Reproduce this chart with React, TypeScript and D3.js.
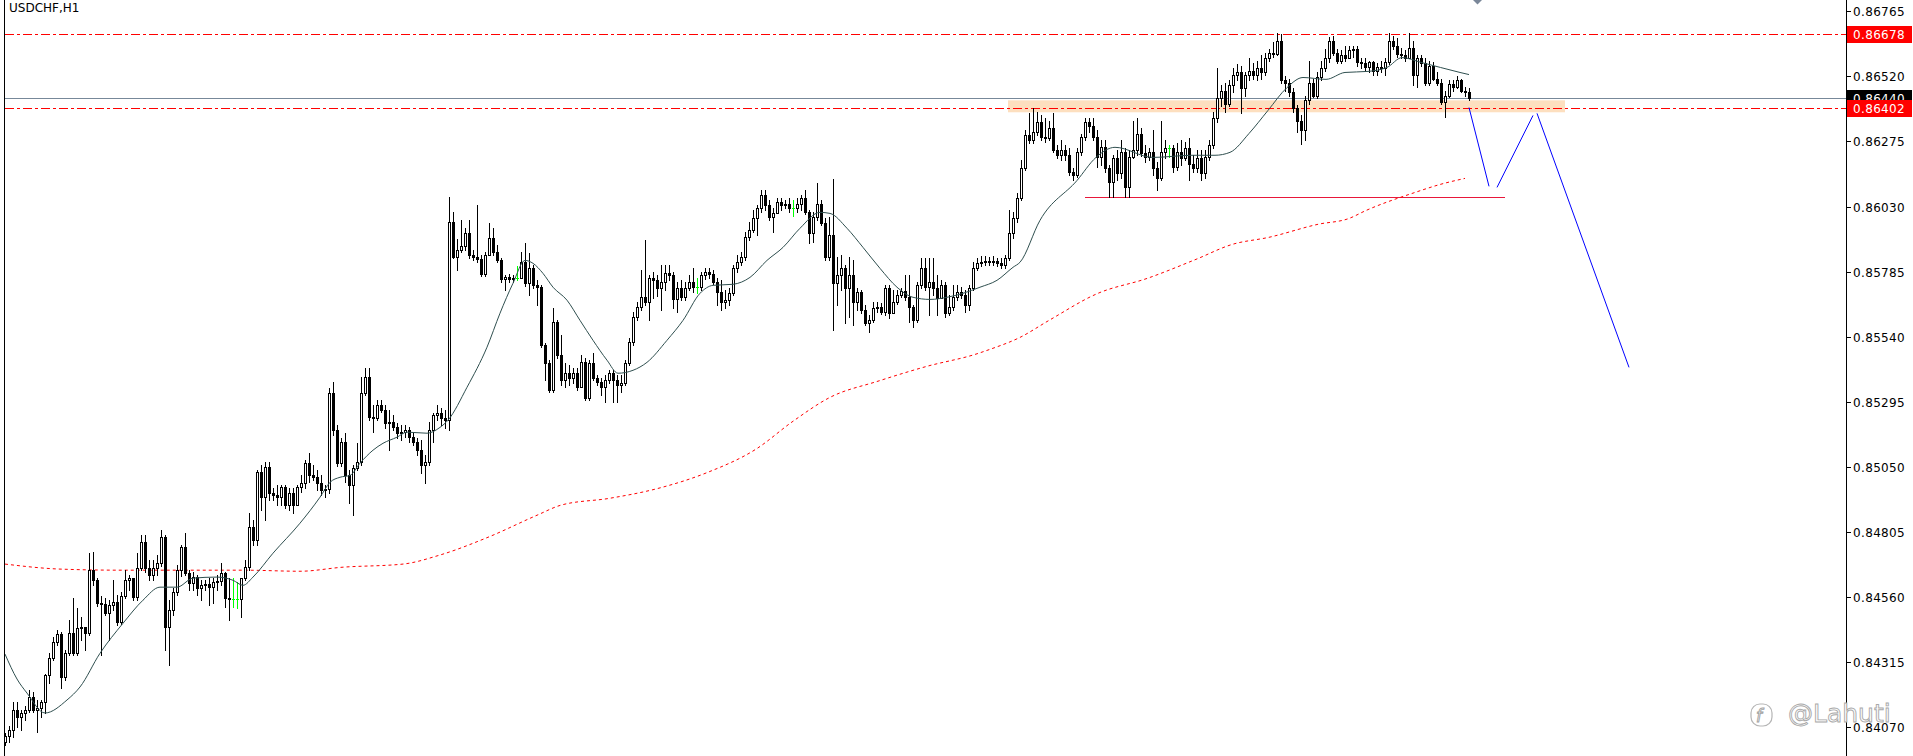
import React, { useEffect } from 'react';
import * as d3 from 'd3';

const W = 1913;
const H = 756;
const SYMBOL = 'USDCHF,H1';
const WATERMARK = '@Lahuti';
const PRICE_TICKS = [0.86765, 0.8652, 0.86275, 0.8603, 0.85785, 0.8554, 0.85295, 0.8505, 0.84805, 0.8456, 0.84315, 0.8407];
const LEVEL_UPPER = 0.86678;
const LEVEL_LOWER = 0.86402;
const BID = 0.8644;
const FIRST_OPEN_PTS = 84012;

// hourly candles, prices in points (1e-5)
const CLOSE_PTS = [
  84035,84058,84133,84107,84122,84133,84182,84133,84141,84163,
  84264,84328,84389,84419,84257,84347,84423,84347,84441,84445,
  84423,84660,84622,84536,84532,84498,84528,84540,84464,84562,
  84622,84630,84558,84668,84766,84668,84641,84668,84686,84784,
  84445,84509,84577,84660,84747,84649,84611,84634,84592,84603,
  84607,84596,84615,84618,84649,84555,84551,84551,84551,84630,
  84672,84822,84773,85029,84935,85048,84950,84942,84935,84972,
  84905,84950,84905,84972,84987,85063,85017,85010,84987,84961,
  84965,85326,85187,85063,85142,85017,84980,85044,85067,85326,
  85387,85236,85232,85281,85262,85213,85217,85198,85176,85180,
  85187,85161,85142,85112,85055,85067,85187,85243,85251,85232,
  85225,85970,85838,85865,85880,85929,85846,85838,85831,85774,
  85846,85910,85857,85827,85756,85763,85756,85759,85759,85820,
  85741,85797,85733,85726,85507,85439,85338,85594,85470,85375,
  85402,85383,85402,85349,85443,85308,85439,85383,85368,85349,
  85375,85402,85375,85356,85364,85439,85519,85613,85650,85688,
  85669,85759,85752,85722,85744,85778,85771,85680,85722,85688,
  85722,85744,85726,85726,85771,85782,85774,85744,85707,85669,
  85677,85703,85797,85820,85838,85914,85940,85985,86023,86072,
  86034,85989,86004,86046,86034,86038,86023,86023,86038,86061,
  86008,85929,85989,86038,85966,85838,85921,85741,85771,85797,
  85722,85771,85669,85707,85639,85590,85601,85646,85650,85631,
  85722,85628,85669,85695,85710,85688,85650,85601,85733,85797,
  85726,85744,85722,85684,85733,85628,85650,85688,85707,85695,
  85658,85722,85797,85816,85820,85823,85820,85823,85816,85808,
  85835,85929,85985,86061,86174,86298,86279,86309,86347,86290,
  86287,86324,86241,86223,86241,86223,86159,86147,86234,86290,
  86347,86335,86290,86215,86253,86174,86121,86211,86155,86234,
  86102,86215,86241,86305,86230,86215,86234,86174,86136,86234,
  86249,86249,86178,86234,86211,86249,86192,86174,86211,86155,
  86215,86260,86362,86437,86467,86418,86486,86524,86535,86475,
  86524,86542,86524,86550,86535,86591,86610,86606,86655,86505,
  86497,86460,86400,86354,86317,86430,86497,86448,86516,86550,
  86588,86655,86610,86580,86599,86591,86618,86625,86573,86569,
  86554,86573,86542,86554,86550,86573,86655,86636,86606,86599,
  86591,86629,86524,86588,86569,86494,86561,86512,86494,86422,
  86448,86490,86482,86505,86467,86463,86440,
];

const HIGH_PTS = [
  84047,84073,84163,84163,84133,84148,84208,84201,84171,84171,
  84270,84347,84408,84434,84427,84359,84472,84555,84517,84483,
  84441,84724,84728,84630,84562,84555,84547,84622,84566,84577,
  84660,84641,84630,84724,84792,84792,84698,84698,84716,84811,
  84792,84547,84592,84679,84754,84799,84660,84653,84641,84622,
  84622,84630,84630,84641,84686,84653,84630,84630,84615,84630,
  84698,84875,84848,85036,85055,85067,85067,84969,84980,84980,
  84980,84969,84969,84980,85017,85074,85101,85055,85036,85017,
  84980,85345,85368,85206,85157,85176,85036,85055,85138,85387,
  85421,85421,85281,85300,85300,85281,85262,85243,85213,85206,
  85206,85198,85176,85157,85149,85093,85217,85251,85281,85270,
  85262,86064,86008,85906,85981,85948,85981,85865,86034,85846,
  85857,85966,85948,85884,85835,85771,85774,85771,85805,85857,
  85891,85854,85808,85752,85733,85515,85451,85646,85601,85545,
  85439,85432,85421,85421,85470,85458,85451,85477,85394,85383,
  85394,85413,85413,85394,85394,85451,85534,85631,85669,85789,
  85902,85771,85782,85771,85808,85808,85808,85782,85744,85752,
  85744,85771,85797,85759,85782,85797,85797,85789,85759,85752,
  85714,85722,85808,85846,85857,85933,85970,86015,86034,86091,
  86091,86053,86023,86061,86061,86053,86061,86053,86061,86072,
  86091,86015,86008,86117,86053,85985,85989,86132,85838,85846,
  85808,85838,85827,85722,85714,85658,85620,85669,85669,85665,
  85733,85733,85714,85714,85722,85771,85771,85658,85744,85835,
  85835,85835,85835,85771,85752,85744,85695,85733,85733,85726,
  85714,85733,85820,85835,85842,85842,85838,85842,85835,85835,
  85846,86015,86008,86080,86204,86317,86381,86400,86385,86373,
  86362,86354,86381,86260,86279,86260,86249,86174,86249,86305,
  86362,86362,86362,86317,86279,86279,86185,86223,86241,86279,
  86249,86241,86354,86362,86324,86260,86249,86317,86196,86354,
  86279,86260,86260,86268,86279,86272,86287,86223,86241,86241,
  86241,86279,86385,86550,86486,86497,86505,86550,86565,86561,
  86535,86588,86569,86580,86599,86610,86625,86648,86682,86678,
  86520,86512,86475,86411,86373,86445,86580,86512,86535,86580,
  86625,86670,86674,86625,86618,86633,86633,86636,86633,86588,
  86588,86580,86580,86569,86580,86588,86682,86674,86663,86629,
  86618,86682,86655,86599,86599,86588,86580,86573,86535,86512,
  86467,86505,86505,86520,86512,86482,86475,
];

const LOW_PTS = [
  84001,84012,84032,84069,84058,84095,84125,84125,84050,84107,
  84122,84235,84321,84378,84216,84246,84340,84340,84340,84396,
  84359,84415,84603,84524,84340,84491,84396,84509,84453,84457,
  84555,84585,84547,84547,84660,84653,84622,84622,84641,84675,
  84359,84302,84491,84566,84637,84641,84585,84585,84566,84547,
  84585,84528,84536,84585,84603,84521,84472,84521,84517,84483,
  84622,84660,84754,84754,84886,84848,84924,84924,84905,84905,
  84894,84886,84875,84905,84954,84969,84991,84999,84961,84942,
  84935,84950,85168,85051,85051,84991,84912,84867,85036,85055,
  85319,85225,85180,85225,85255,85195,85112,85187,85157,85149,
  85161,85142,85131,85093,85025,84987,85055,85142,85225,85206,
  85195,85187,85835,85789,85857,85865,85835,85827,85820,85767,
  85767,85846,85846,85820,85744,85714,85744,85744,85752,85759,
  85729,85695,85722,85658,85500,85375,85330,85330,85458,85356,
  85349,85356,85364,85338,85356,85300,85300,85375,85356,85319,
  85292,85364,85292,85292,85330,85356,85432,85507,85601,85639,
  85658,85601,85684,85692,85639,85714,85752,85646,85631,85677,
  85677,85714,85707,85703,85714,85756,85759,85737,85658,85639,
  85646,85658,85695,85782,85808,85827,85902,85933,85921,86008,
  86015,85978,85933,86023,86015,86023,86008,85996,86008,86015,
  86000,85891,85895,85978,85959,85827,85827,85564,85658,85714,
  85590,85613,85583,85639,85628,85583,85556,85594,85631,85624,
  85620,85609,85658,85662,85688,85677,85594,85575,85594,85722,
  85714,85620,85695,85620,85695,85613,85620,85639,85677,85684,
  85631,85639,85714,85789,85805,85808,85808,85808,85805,85797,
  85797,85827,85910,85970,86053,86166,86268,86268,86298,86279,
  86272,86279,86234,86211,86204,86204,86147,86128,86140,86223,
  86279,86309,86279,86178,86185,86159,86064,86064,86128,86136,
  86064,86064,86211,86223,86219,86196,86204,86147,86091,86128,
  86211,86215,86159,86166,86185,86204,86128,86159,86159,86128,
  86136,86204,86249,86347,86407,86385,86407,86460,86505,86381,
  86448,86505,86512,86505,86512,86524,86580,86595,86599,86497,
  86467,86448,86385,86309,86264,86279,86415,86441,86437,86505,
  86542,86573,86599,86569,86569,86580,86588,86595,86561,86550,
  86542,86535,86524,86524,86535,86524,86565,86625,86595,86591,
  86580,86591,86486,86479,86561,86486,86486,86505,86486,86415,
  86366,86441,86467,86475,86460,86448,86432,
];

// fast moving average: [bar index, points]
const MA_FAST = [
  [0,84344],[3,84250],[5.5,84197],[10,84122],[15.5,84171],[18.75,84220],[23.75,84347],[29.5,84460],
  [34.5,84547],[38.75,84596],[43,84596],[47,84630],[53,84634],[57,84622],[59.5,84603],[62,84634],
  [67,84724],[73.75,84837],[78.75,84935],[81.25,84991],[83.75,85010],[86.25,85017],[88.75,85063],
  [92,85112],[94.5,85138],[98,85161],[100.5,85180],[105.5,85176],[108.75,85198],[110.75,85225],
  [115.5,85349],[120.5,85500],[123.75,85628],[127,85741],[130,85827],[132,85816],[134.5,85778],
  [137,85726],[140.5,85677],[143.75,85601],[147,85526],[150.5,85451],[153.25,85402],[157,85413],
  [160.5,85443],[165.5,85526],[169.5,85601],[173.75,85703],[177,85733],[182,85737],[186.25,85763],
  [190.5,85827],[194.5,85876],[198.75,85948],[203.75,86008],[206.25,86004],[210.5,85948],
  [214.5,85876],[218.75,85797],[223,85726],[227,85688],[231.25,85680],[235.5,85688],[239.5,85703],
  [243.75,85726],[248,85752],[252,85801],[253.75,85820],[258.75,85978],[268,86128],[272.75,86215],
  [277.5,86253],[287,86215],[296.75,86223],[302.5,86223],[306.25,86234],[311,86305],[315.75,86392],
  [320.5,86478],[324.5,86516],[330.25,86509],[335,86535],[340.75,86539],[345.5,86554],
  [349.25,86591],[354,86573],[363.75,86535],[366,86527],
];

// slow moving average (red dotted): [bar index, points]
const MA_SLOW = [
  [0,84683],[14,84664],[29.25,84660],[59.75,84660],[73.75,84656],[84.25,84671],[99.5,84683],
  [108.5,84716],[120.75,84784],[133,84867],[139,84905],[151.25,84931],[163.5,84969],[175.75,85029],
  [187.75,85116],[197,85221],[206.25,85311],[218.25,85372],[230.5,85428],[242.75,85474],
  [246.25,85492],[253.75,85537],[261,85601],[273.25,85703],[285.5,85759],[297.75,85831],
  [306.75,85887],[316,85914],[328.25,85963],[336,85985],[340.25,86015],[352.5,86083],
  [358.75,86113],[365,86136],
];

// drawn objects: [bar index, price]
const ZONE_BARS = [250.75, 390];
const ZONE_PRICES = [0.8643, 0.86385];
const SUPPORT_BARS = [270, 375];
const SUPPORT_PRICE = 0.86064;
const PATH_LEGS = [
  [[366, 0.86403], [371, 0.86106]],
  [[373, 0.86102], [382, 0.86373]],
  [[383, 0.86381], [406, 0.85424]],
];

const FONT = '"DejaVu Sans", Verdana, sans-serif';

export default function App() {
  useEffect(() => {
    document.body.style.margin = '0';
  }, []);

  const n = CLOSE_PTS.length;
  const x = d3.scaleLinear().domain([0, n - 1]).range([5, 5 + 4 * (n - 1)]);
  const y = d3.scaleLinear().domain([0.8407, 0.86765]).range([726.8, 11.4]);
  const yr = (p: number) => Math.round(y(p));
  const axisX = 1846;
  const left = 4;

  const candles = CLOSE_PTS.map((cp, i) => {
    const o = (i === 0 ? FIRST_OPEN_PTS : CLOSE_PTS[i - 1]) / 1e5;
    const c = cp / 1e5;
    const h = HIGH_PTS[i] / 1e5;
    const l = LOW_PTS[i] / 1e5;
    const cx = Math.round(x(i));
    const yH = yr(h);
    const yL = yr(l);
    const yO = yr(o);
    const yC = yr(c);
    if (o === c) {
      return (
        <g key={i}>
          <rect x={cx} y={yH} width={1} height={yL - yH + 1} fill="#00FF00" />
          <rect x={cx - 1} y={yC} width={3} height={1} fill="#00FF00" />
        </g>
      );
    }
    const top = Math.min(yO, yC);
    const bot = Math.max(yO, yC);
    const wTop = Math.min(yH, top);
    const wBot = Math.max(yL, bot);
    return (
      <g key={i}>
        <rect x={cx} y={wTop} width={1} height={wBot - wTop + 1} fill="#000" />
        <rect x={cx - 1} y={top} width={3} height={bot - top + 1} fill="#000" />
        {c > o && bot - top >= 2 ? (
          <rect x={cx} y={top + 1} width={1} height={bot - top - 1} fill="#fff" />
        ) : null}
      </g>
    );
  });

  const maLine = d3
    .line<number[]>()
    .x((d) => x(d[0]))
    .y((d) => y(d[1] / 1e5))
    .curve(d3.curveMonotoneX);

  const hLine = (p: number) => Math.round(y(p)) + 0.5;

  const labelBox = (p: number, fill: string, key: string) => {
    const yy = y(p);
    return (
      <g key={key}>
        <rect x={axisX + 1} y={Math.round(yy) - 8} width={65} height={17} fill={fill} />
        <text x={1853} y={Math.round(yy) + 4.5} fontFamily={FONT} fontSize={12} letterSpacing={0.35} fill="#fff">
          {p.toFixed(5)}
        </text>
      </g>
    );
  };

  return (
    <svg
      width={W}
      height={H}
      viewBox={`0 0 ${W} ${H}`}
      style={{ position: 'absolute', left: 0, top: 0, background: '#fff', display: 'block' }}
    >
      <rect x={0} y={0} width={W} height={H} fill="#fff" />
      {/* zone */}
      <rect
        x={x(ZONE_BARS[0])}
        y={y(ZONE_PRICES[0])}
        width={x(ZONE_BARS[1]) - x(ZONE_BARS[0])}
        height={y(ZONE_PRICES[1]) - y(ZONE_PRICES[0])}
        fill="#FDDFBF"
      />
      {/* bid line */}
      <line x1={left} x2={axisX} y1={hLine(BID)} y2={hLine(BID)} stroke="#778899" strokeWidth={1} />
      {/* horizontal levels */}
      {[LEVEL_UPPER, LEVEL_LOWER].map((p, k) => (
        <line
          key={k}
          x1={left + 1}
          x2={axisX}
          y1={hLine(p)}
          y2={hLine(p)}
          stroke="#FF0000"
          strokeWidth={1.2}
          strokeDasharray="9,3,3,3"
        />
      ))}
      {/* support line */}
      <line
        x1={x(SUPPORT_BARS[0])}
        x2={x(SUPPORT_BARS[1])}
        y1={hLine(SUPPORT_PRICE)}
        y2={hLine(SUPPORT_PRICE)}
        stroke="#E8173A"
        strokeWidth={1.2}
      />
      {/* slow MA */}
      <path d={maLine(MA_SLOW) || ''} fill="none" stroke="#FF0000" strokeWidth={1} strokeDasharray="3,3" />
      {/* candles */}
      {candles}
      {/* fast MA */}
      <path d={maLine(MA_FAST) || ''} fill="none" stroke="#2F4F4F" strokeWidth={1} />
      {/* forecast path */}
      {PATH_LEGS.map((leg, k) => (
        <line
          key={k}
          x1={x(leg[0][0])}
          y1={y(leg[0][1])}
          x2={x(leg[1][0])}
          y2={y(leg[1][1])}
          stroke="#0000FF"
          strokeWidth={1}
        />
      ))}
      {/* shift marker */}
      <path d="M1473,0 L1482,0 L1477.5,4.5 Z" fill="#7A8799" />
      {/* borders */}
      <rect x={left} y={0} width={1} height={H} fill="#000" />
      <rect x={axisX} y={0} width={1} height={H} fill="#000" />
      {/* watermark */}
      <g>
        <rect x={1751} y={704} width={21} height={22} rx={9} fill="#fff" stroke="#b5b5b5" strokeWidth={1.2} />
        <text x={1756} y={722} fontFamily={FONT} fontSize={17} fontStyle="italic" fill="#fff" stroke="#a0a0a0" strokeWidth={0.9}>
          f
        </text>
        <text x={1788} y={722} fontFamily={FONT} fontSize={25} fill="#fff" stroke="#a8a8a8" strokeWidth={0.9}>
          {WATERMARK}
        </text>
      </g>
      {/* axis ticks and labels */}
      {PRICE_TICKS.map((p) => (
        <g key={p}>
          <rect x={axisX + 1} y={Math.round(y(p))} width={4} height={1} fill="#000" />
          <text x={1853} y={Math.round(y(p)) + 4.5} fontFamily={FONT} fontSize={12} letterSpacing={0.35} fill="#000">
            {p.toFixed(5)}
          </text>
        </g>
      ))}
      {labelBox(LEVEL_UPPER, '#FF0000', 'u')}
      {labelBox(BID, '#000000', 'b')}
      {labelBox(LEVEL_LOWER, '#FF0000', 'l')}
      {/* title */}
      <text x={9} y={12} fontFamily={FONT} fontSize={12} fill="#000">
        {SYMBOL}
      </text>
    </svg>
  );
}
